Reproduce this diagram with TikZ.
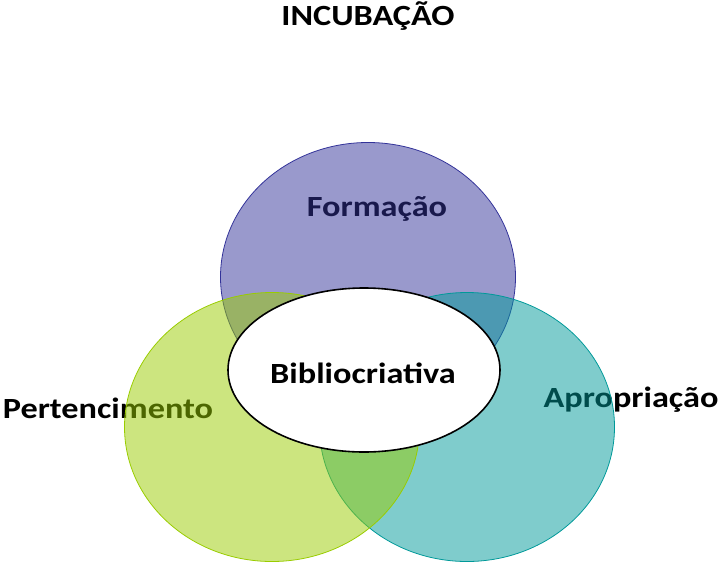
\documentclass[tikz,border=0pt]{standalone}
\usepackage{fontspec}
\setmainfont[FakeStretch=1.17]{Carlito}
\usepackage{tikz}
\usetikzlibrary{shapes.geometric, positioning}

\definecolor{formacaoblue}{RGB}{51,51,153}
\definecolor{pertencgreen}{RGB}{153,204,0}
\definecolor{apropteal}{RGB}{0,153,153}

\begin{document}
\begin{tikzpicture}[
    x=1pt, y=-1pt,
    txt/.style={anchor=base, inner sep=0pt, font=\fontsize{29.3}{32}\selectfont\bfseries},
    venn/.style={ellipse, minimum width=295pt, minimum height=269pt, inner sep=0pt, outer sep=0pt, fill opacity=0.5, line width=0.8pt},
    core/.style={ellipse, draw=black, fill=white, line width=1.6pt, minimum width=272pt, minimum height=164pt, inner sep=0pt}
]
\useasboundingbox (0,0) rectangle (719,565);

% Title
\node[txt] (title) at (368,25) {INCUBAÇÃO};

% Labels (under the circles)
\node[txt] (lformacao) at (377,216) {Formação};
\node[txt] (lpertenc) at (108,418) {Pertencimento};
\node[txt] (laprop) at (631,407) {Apropriação};

% Circles
\node[venn, fill=formacaoblue, draw=formacaoblue] (formacao) at (368,277) {};
\node[venn, fill=apropteal, draw=apropteal] (aprop) at (467,427) {};
\node[venn, fill=pertencgreen, draw=pertencgreen] (pertenc) at (272,427) {};

% Center
\node[core] (biblio) at (364,370) {};
\node[txt] (lbiblio) at (363,383) {Bibliocriativa};

\end{tikzpicture}
\end{document}
